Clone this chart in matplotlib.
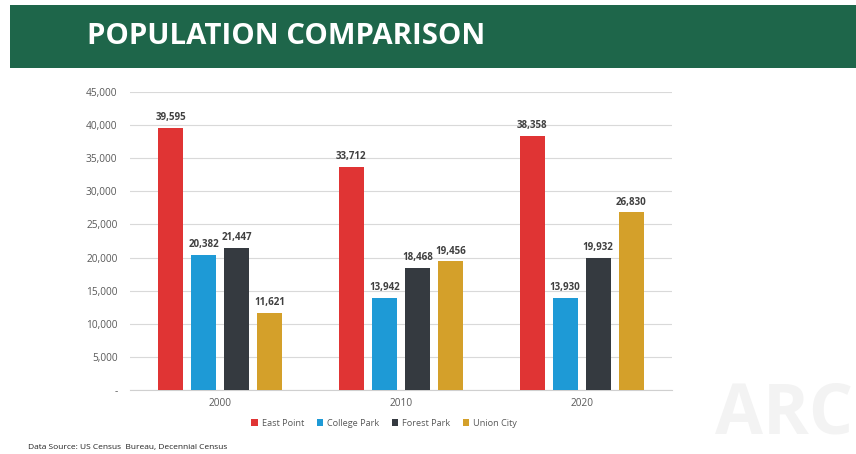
import matplotlib
matplotlib.use("Agg")
import matplotlib.pyplot as plt
import numpy as np
from matplotlib.patches import Rectangle

years = ["2000", "2010", "2020"]
series_names = ["East Point", "College Park", "Forest Park", "Union City"]
east_point = [39595, 33712, 38358]
college_park = [20382, 13942, 13930]
forest_park = [21447, 18468, 19932]
union_city = [11621, 19456, 26830]
yticks = [0, 5000, 10000, 15000, 20000, 25000, 30000, 35000, 40000, 45000]
ytick_labels = ["-", "5,000", "10,000", "15,000", "20,000", "25,000", "30,000", "35,000", "40,000", "45,000"]
colors = ["#e03434", "#1e9ad6", "#353a40", "#d4a02a"]

plt.rcParams['font.family'] = ['Open Sans', 'DejaVu Sans']

fig = plt.figure(figsize=(8.56, 4.54), dpi=100)
fig.patch.set_facecolor("white")

# Banner
fig.patches.append(Rectangle((10/856, 1-68/454), 846/856, 63/454, transform=fig.transFigure,
                             facecolor="#1e664a", edgecolor="none", zorder=0))
fig.text(87/856, 1-37/454, "POPULATION COMPARISON", color="white", fontsize=21.2,
         fontweight="bold", va="center", ha="left")

# Watermark
fig.text(853/856, 1-416/454, "ARC", color="#f3f3f3", fontsize=50, fontweight="bold",
         ha="right", va="center", zorder=0)

ax = fig.add_axes([130/856, 1-390/454, 542/856, 298/454])
ax.set_facecolor("none")
data = [east_point, college_park, forest_park, union_city]
x = np.arange(len(years))
slot = 0.183
bw = 0.138
for i, (name, vals, c) in enumerate(zip(series_names, data, colors)):
    pos = x + (i - 1.5) * slot
    ax.bar(pos, vals, width=bw, color=c, label=name, zorder=3)
    for p, v in zip(pos, vals):
        ax.text(p, v + 700, f"{v:,}", ha="center", va="bottom", fontsize=7,
                fontweight="bold", color="#404040")

ax.set_xlim(-0.5, 2.5)
ax.set_ylim(0, 45000)
ax.set_yticks(yticks)
ax.set_yticklabels(ytick_labels)
ax.set_xticks(x)
ax.set_xticklabels(years)
ax.tick_params(axis="both", length=0, labelsize=7.3, colors="#595959")
ax.tick_params(axis="y", pad=9)
ax.tick_params(axis="x", pad=6)
ax.grid(axis="y", color="#d9d9d9", linewidth=0.8, zorder=0)
for s in ["top", "right", "left"]:
    ax.spines[s].set_visible(False)
ax.spines["bottom"].set_color("#d0d0d0")

ax.legend(loc="upper center", bbox_to_anchor=(0.469, -0.068), ncol=4, frameon=False,
          fontsize=6.6, handlelength=0.7, handleheight=0.7, handletextpad=0.4,
          columnspacing=1.4, labelcolor="#595959")

fig.text(28/856, 1-447/454, "Data Source: US Census  Bureau, Decennial Census", fontsize=6,
         color="#222222", ha="left", va="center")

fig.savefig("out.png", dpi=100)
